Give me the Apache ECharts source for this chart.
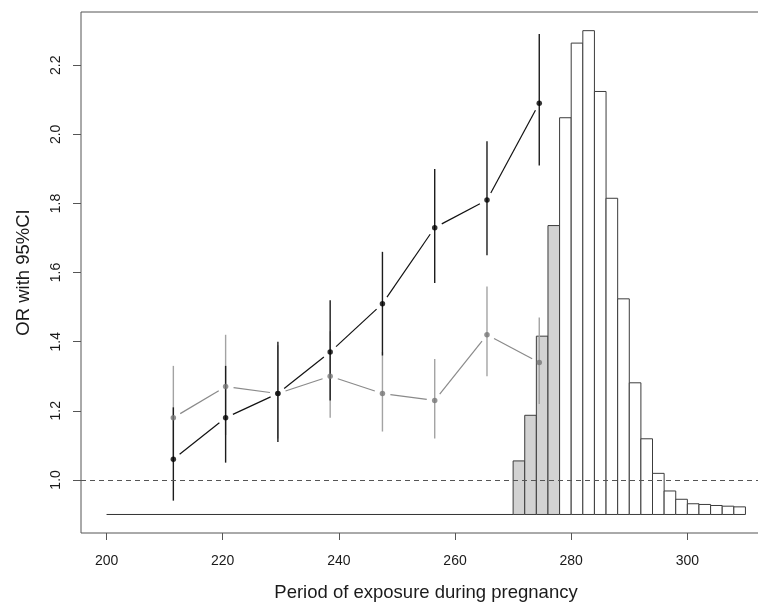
<!DOCTYPE html>
<html>
<head>
<meta charset="utf-8">
<title>OR with 95%CI by period of exposure during pregnancy</title>
<script src="https://cdn.jsdelivr.net/npm/echarts@6/dist/echarts.min.js"></script>
<style>
  html, body { margin: 0; padding: 0; background: #fff; }
  #chart { width: 758px; height: 603px; }
</style>
</head>
<body>
<div id="chart"></div>
<script>
// exposure windows (day of pregnancy)
const periods = [211.5, 220.5, 229.5, 238.5, 247.5, 256.5, 265.5, 274.5];

// black series: OR with 95% CI
const orBlack   = [1.06, 1.18, 1.25, 1.37, 1.51, 1.73, 1.81, 2.09];
const lowBlack  = [0.94, 1.05, 1.11, 1.23, 1.36, 1.57, 1.65, 1.91];
const highBlack = [1.21, 1.33, 1.40, 1.52, 1.66, 1.90, 1.98, 2.29];

// grey series: OR with 95% CI
const orGrey   = [1.18, 1.27, 1.25, 1.30, 1.25, 1.23, 1.42, 1.34];
const lowGrey  = [1.05, 1.13, 1.12, 1.18, 1.14, 1.12, 1.30, 1.22];
const highGrey = [1.33, 1.42, 1.39, 1.43, 1.37, 1.35, 1.56, 1.47];

// gestational age histogram, 2-day bins, drawn up from the 0.9 baseline
const binEdges = [270, 272, 274, 276, 278, 280, 282, 284, 286, 288, 290,
                  292, 294, 296, 298, 300, 302, 304, 306, 308, 310];
const binTops  = [1.055, 1.187, 1.416, 1.736, 2.048, 2.264, 2.300, 2.124, 1.815, 1.524,
                  1.281, 1.119, 1.019, 0.968, 0.944, 0.931, 0.929, 0.926, 0.924, 0.922];
const shadedUpTo = 278;   // bins ending at or before this day are grey
const baseline = 0.9;
const baselineFrom = 200;

const xTicks = [200, 220, 240, 260, 280, 300];
const yTicks = [1.0, 1.2, 1.4, 1.6, 1.8, 2.0, 2.2];

const GAP = 8; // px left open around each point (R type = "b")
const FONT = "'Liberation Sans', Arial, sans-serif";

const chart = echarts.init(document.getElementById("chart"));

function segments(xs, ys) {
  return xs.slice(1).map((x, i) => [xs[i], ys[i], x, ys[i + 1]]);
}

function gapLine(color) {
  return function (params, api) {
    const a = api.coord([api.value(0), api.value(1)]);
    const b = api.coord([api.value(2), api.value(3)]);
    const dx = b[0] - a[0], dy = b[1] - a[1];
    const len = Math.hypot(dx, dy);
    if (len <= 2 * GAP) return;
    const ux = dx / len, uy = dy / len;
    return {
      type: "line",
      shape: { x1: a[0] + ux * GAP, y1: a[1] + uy * GAP, x2: b[0] - ux * GAP, y2: b[1] - uy * GAP },
      style: { stroke: color, lineWidth: 1.2 }
    };
  };
}

function ciBar(color) {
  return function (params, api) {
    const top = api.coord([api.value(0), api.value(2)]);
    const bot = api.coord([api.value(0), api.value(1)]);
    return {
      type: "line",
      shape: { x1: top[0], y1: top[1], x2: bot[0], y2: bot[1] },
      style: { stroke: color, lineWidth: 1.4 }
    };
  };
}

const bins = binTops.map((h, i) => [binEdges[i], binEdges[i + 1], h]);

chart.setOption({
  animation: false,
  textStyle: { fontFamily: FONT },
  grid: {
    left: 81, top: 12, right: -13, bottom: 70,
    outerBoundsMode: "none",
    containLabel: false,
    show: true, borderColor: "#555", borderWidth: 1, backgroundColor: "transparent"
  },
  xAxis: {
    type: "value",
    min: 195.6,
    max: 314.4,
    name: "Period of exposure during pregnancy",
    nameLocation: "middle",
    nameGap: 50,
    nameTextStyle: { fontSize: 18.5, color: "#1a1a1a", fontFamily: FONT },
    axisLine: { show: false },
    splitLine: { show: false },
    axisTick: { show: true, length: 7, customValues: xTicks, lineStyle: { color: "#555" } },
    axisLabel: { customValues: xTicks, margin: 21, fontSize: 14, color: "#1a1a1a", fontFamily: FONT }
  },
  yAxis: {
    type: "value",
    min: 0.8464,
    max: 2.354,
    name: "OR with 95%CI",
    nameLocation: "middle",
    nameRotate: 90,
    nameGap: 48,
    nameTextStyle: { fontSize: 18.5, color: "#1a1a1a", fontFamily: FONT },
    axisLine: { show: false },
    splitLine: { show: false },
    axisTick: { show: true, length: 8, customValues: yTicks, lineStyle: { color: "#555" } },
    axisLabel: {
      customValues: yTicks, rotate: 90, margin: 18, fontSize: 14, color: "#1a1a1a", fontFamily: FONT,
      formatter: v => v.toFixed(1)
    }
  },
  series: [
    {
      type: "line",
      data: [[baselineFrom, baseline], [binEdges[0], baseline]],
      symbol: "none",
      lineStyle: { color: "#333", width: 1 },
      z: 1
    },
    {
      type: "custom",
      data: bins,
      encode: { x: [0, 1], y: 2 },
      renderItem: (params, api) => {
        const p0 = api.coord([api.value(0), baseline]);
        const p1 = api.coord([api.value(1), api.value(2)]);
        return {
          type: "rect",
          shape: { x: p0[0], y: p1[1], width: p1[0] - p0[0], height: p0[1] - p1[1] },
          style: { fill: api.value(1) <= shadedUpTo ? "#d2d2d2" : "#fff", stroke: "#3c3c3c", lineWidth: 1 }
        };
      },
      z: 2
    },
    {
      type: "custom",
      data: periods.map((x, i) => [x, lowGrey[i], highGrey[i]]),
      encode: { x: 0, y: [1, 2] },
      renderItem: ciBar("#a3a3a3"),
      z: 3
    },
    {
      type: "custom",
      data: periods.map((x, i) => [x, lowBlack[i], highBlack[i]]),
      encode: { x: 0, y: [1, 2] },
      renderItem: ciBar("#1c1c1c"),
      z: 4
    },
    {
      type: "custom",
      data: segments(periods, orGrey),
      encode: { x: [0, 2], y: [1, 3] },
      renderItem: gapLine("#8a8a8a"),
      z: 5
    },
    {
      type: "scatter",
      data: periods.map((x, i) => [x, orGrey[i]]),
      symbol: "circle",
      symbolSize: 5.5,
      itemStyle: { color: "#777" },
      z: 6
    },
    {
      type: "custom",
      data: segments(periods, orBlack),
      encode: { x: [0, 2], y: [1, 3] },
      renderItem: gapLine("#111"),
      z: 7
    },
    {
      type: "scatter",
      data: periods.map((x, i) => [x, orBlack[i]]),
      symbol: "circle",
      symbolSize: 5.5,
      itemStyle: { color: "#000" },
      z: 8,
      markLine: {
        silent: true,
        symbol: "none",
        label: { show: false },
        lineStyle: { color: "#555", width: 1, type: [5, 4] },
        data: [{ yAxis: 1 }]
      }
    }
  ]
});
</script>
</body>
</html>
